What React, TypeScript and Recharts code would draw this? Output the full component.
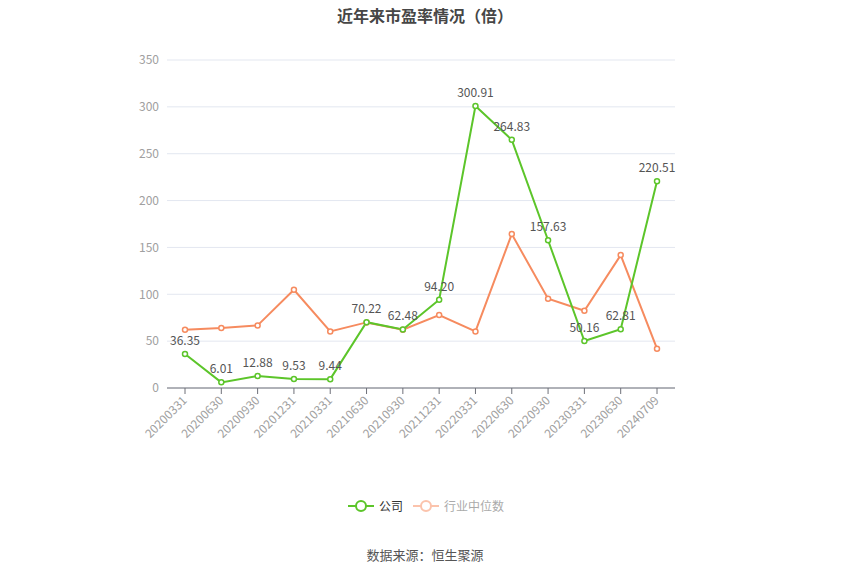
import { CartesianGrid, LabelList, Line, LineChart, XAxis, YAxis } from "recharts";

const dates = [
  "20200331", "20200630", "20200930", "20201231", "20210331", "20210630", "20210930",
  "20211231", "20220331", "20220630", "20220930", "20230331", "20230630", "20240709",
];
const companyPe = [36.35, 6.01, 12.88, 9.53, 9.44, 70.22, 62.48, 94.2, 300.91, 264.83, 157.63, 50.16, 62.81, 220.51];
const industryPe = [62.2, 64.0, 66.8, 104.8, 60.4, 70.0, 62.2, 77.8, 60.4, 164.2, 95.2, 82.4, 141.8, 41.9];
const yTicks = [0, 50, 100, 150, 200, 250, 300, 350];

const GREEN = "#5cc52a";
const ORANGE = "#f68b5f";
const FONT = "'Noto Sans CJK SC', 'Noto Sans', sans-serif";

const data = dates.map((d, i) => ({ date: d, company: companyPe[i], industry: industryPe[i] }));

function XTick(props: any) {
  const { x, y, payload } = props;
  return (
    <text x={x + 4} y={y} dy={8} fill="#a0a0a0" fontSize={12} fontFamily={FONT} textAnchor="end" transform={`rotate(-45 ${x} ${y + 8})`}>
      {payload.value}
    </text>
  );
}

function LegendBox() {
  const item = (color: string, label: string, textColor: string) => (
    <span style={{ display: "inline-flex", alignItems: "center", marginRight: 10 }}>
      <svg width={26} height={14}>
        <line x1={0} y1={7} x2={26} y2={7} stroke={color} strokeWidth={2} />
        <circle cx={13} cy={7} r={5} fill="#fff" stroke={color} strokeWidth={2} />
      </svg>
      <span style={{ marginLeft: 5, color: textColor }}>{label}</span>
    </span>
  );
  return (
    <div style={{ position: "absolute", top: 497, left: 6, width: 850, textAlign: "center", fontSize: 12 }}>
      {item(GREEN, "公司", "#333")}
      {item("#fbc3ac", "行业中位数", "#aaa")}
    </div>
  );
}

export default function App() {
  return (
    <div style={{ position: "absolute", left: 0, top: 0, width: 850, height: 575, background: "#fff", fontFamily: FONT }}>
      <div style={{ position: "absolute", top: 3, width: 850, textAlign: "center", fontSize: 16, fontWeight: "bold", color: "#464646" }}>
        近年来市盈率情况（倍）
      </div>
      <LineChart width={850} height={575} data={data} margin={{ top: 60, right: 175, left: 130, bottom: 127 }}>
        <CartesianGrid stroke="#e3e7f0" vertical={false} />
        <XAxis
          dataKey="date"
          interval={0}
          height={60}
          padding={{ left: 18, right: 18 }}
          tick={<XTick />}
          axisLine={{ stroke: "#6e7079" }}
          tickLine={{ stroke: "#6e7079" }}
        />
        <YAxis
          width={37}
          domain={[0, 350]}
          ticks={yTicks}
          axisLine={false}
          tickLine={false}
          tick={{ fill: "#a0a0a0", fontSize: 12, fontFamily: FONT }}
        />
        <Line
          dataKey="industry"
          stroke={ORANGE}
          strokeWidth={2}
          dot={{ r: 2.5, fill: "#fff", stroke: ORANGE, strokeWidth: 1.5 }}
          isAnimationActive={false}
        />
        <Line
          dataKey="company"
          stroke={GREEN}
          strokeWidth={2}
          dot={{ r: 2.5, fill: "#fff", stroke: GREEN, strokeWidth: 1.5 }}
          isAnimationActive={false}
        >
          <LabelList
            dataKey="company"
            position="top"
            offset={9}
            fill="#555"
            fontSize={12}
            fontFamily={FONT}
            formatter={(v: any) => Number(v).toFixed(2)}
          />
        </Line>
      </LineChart>
      <LegendBox />
      <div style={{ position: "absolute", top: 545, width: 850, textAlign: "center", fontSize: 13, color: "#555" }}>
        数据来源：恒生聚源
      </div>
    </div>
  );
}
